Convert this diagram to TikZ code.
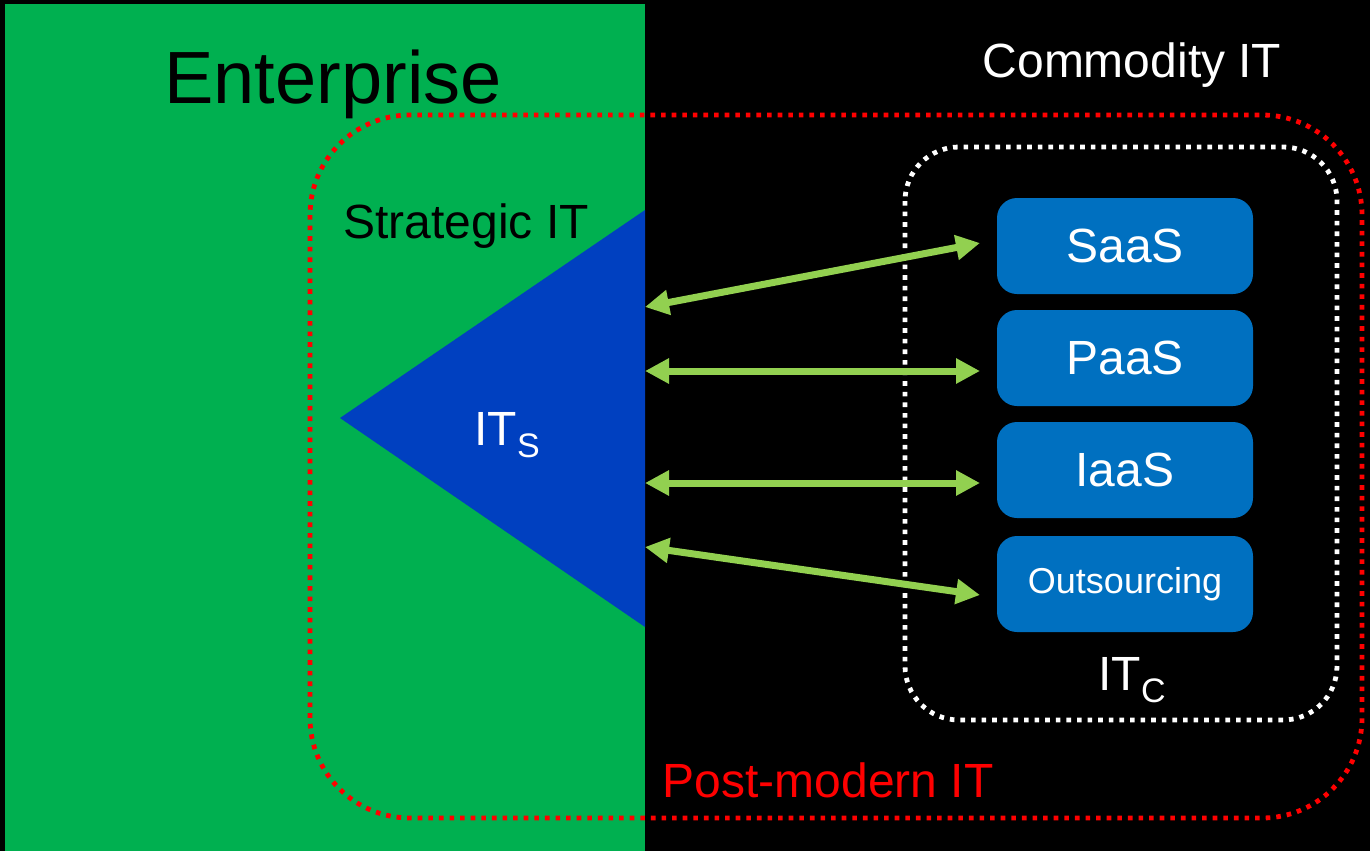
\documentclass[tikz,border=0pt]{standalone}
\usepackage{fontspec}
\setmainfont{Liberation Sans}
\usetikzlibrary{arrows.meta,calc}
\definecolor{entgreen}{HTML}{00B050}
\definecolor{triblue}{HTML}{0040C0}
\definecolor{boxblue}{HTML}{0070C0}
\definecolor{arrgreen}{HTML}{92D050}
\definecolor{pmred}{HTML}{FF0000}
\tikzset{
  reddot/.style={draw=pmred, line width=2.4pt, dash pattern=on 2.3pt off 3pt, rounded corners=50pt},
  whitedot/.style={draw=white, line width=2.4pt, dash pattern=on 2.3pt off 3pt, rounded corners=27pt},
  svc/.style={fill=boxblue, rounded corners=10pt, minimum width=128pt, minimum height=48pt, inner sep=0pt, text=white, font=\fontsize{24}{28}\selectfont},
  biarrow/.style={draw=arrgreen, line width=3.5pt, {Triangle[length=12pt,width=12pt]}-{Triangle[length=12pt,width=12pt]}},
  lbl/.style={anchor=base, inner sep=0pt, font=\fontsize{24}{28}\selectfont}
}
\begin{document}
\begin{tikzpicture}[x=0.5pt,y=-0.5pt]
\useasboundingbox (0,0) rectangle (1370,851);
\fill[black] (0,0) rectangle (1370,851);
\fill[entgreen] (5,4) rectangle (645,851);
\fill[triblue] (645,210) -- (645,627) -- (340,418) -- cycle;
\draw[reddot] (310,115) rectangle (1362,818);
\draw[whitedot] (905,147) rectangle (1337,720);
% texts
\node[lbl, font=\fontsize{37}{44}\selectfont, text=black] (ent) at (333,103) {Enterprise};
\node[lbl, text=white] (com) at (1132,77) {Commodity IT};
\node[lbl, text=black] (strat) at (466,238) {Strategic IT};
\node[lbl, text=pmred] (pm) at (828,797) {Post-modern IT};
\node[lbl, anchor=base west, text=white] (its) at (474,445) {IT\raisebox{-6pt}{\fontsize{17}{17}\selectfont S}};
\node[lbl, anchor=base west, text=white] (itc) at (1098,690) {IT\raisebox{-6pt}{\fontsize{17}{17}\selectfont C}};
% service boxes
\node[svc] (saas) at (1125,246) {SaaS};
\node[svc] (paas) at (1125,358) {PaaS};
\node[svc] (iaas) at (1125,470) {IaaS};
\node[svc, font=\fontsize{18}{22}\selectfont] (outs) at (1125,584) {Outsourcing};
% arrow ends
\coordinate (l1) at (645,307); \coordinate (r1) at (980,243);
\coordinate (l2) at (645,371); \coordinate (r2) at (980,371);
\coordinate (l3) at (645,483); \coordinate (r3) at (980,483);
\coordinate (l4) at (645,547); \coordinate (r4) at (980,595);
\draw[biarrow] (l1) -- (r1);
\draw[biarrow] (l2) -- (r2);
\draw[biarrow] (l3) -- (r3);
\draw[biarrow] (l4) -- (r4);
\end{tikzpicture}
\end{document}
